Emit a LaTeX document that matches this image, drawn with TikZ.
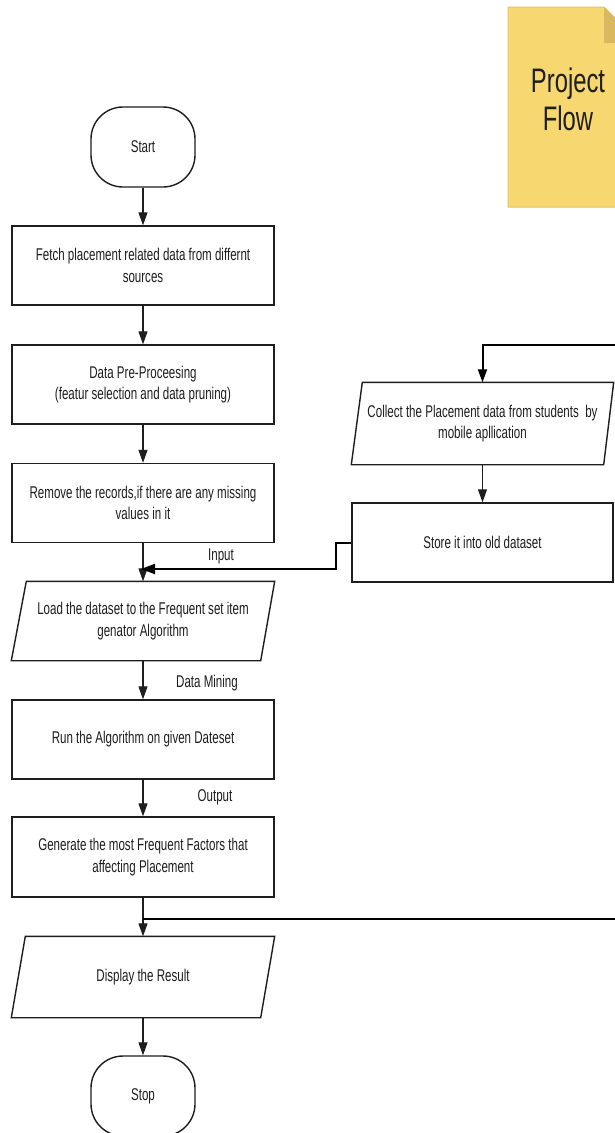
\documentclass[tikz,border=0pt]{standalone}
\usepackage{fontspec}
\setmainfont{Liberation Sans}[FakeStretch=0.68]
\newfontfamily\notefont{Liberation Sans}[FakeStretch=0.7]
\usetikzlibrary{arrows.meta,calc}
\definecolor{notefill}{RGB}{247,215,112}
\definecolor{notefold}{RGB}{218,184,96}
\definecolor{noteedge}{RGB}{226,196,104}
\definecolor{ink}{RGB}{30,30,30}
\begin{document}
\begin{tikzpicture}[x=1pt,y=-1pt,
  box/.style={draw=ink, line width=1.4pt, minimum width=262pt, minimum height=79pt,
    align=center, inner sep=0pt, font=\fontsize{17}{21.5}\selectfont, text=ink},
  parabox/.style={box, draw=none},
  term/.style={box, minimum width=104pt, minimum height=80pt, rounded corners=32pt},
  pline/.style={draw=ink, line width=1.4pt},
  arr/.style={draw=ink, line width=1.1pt, -{Triangle[length=13pt,width=9pt]}},
  link/.style={draw=black, line width=2pt},
  lbl/.style={font=\fontsize{17}{21}\selectfont, text=ink, inner sep=0pt}]
\useasboundingbox (0,0) rectangle (615,1133);
\fill[white] (0,0) rectangle (615,1133);

% sticky note
\begin{scope}
  \clip (0,0) rectangle (615,1133);
  \filldraw[fill=notefill, draw=noteedge, line width=1pt]
    (508,7) -- (604,7) -- (640,43) -- (640,207) -- (508,207) -- cycle;
  \fill[notefold] (604,7) -- (604,43) -- (640,43) -- cycle;
\end{scope}
\node[font=\notefont\fontsize{34}{38}\selectfont, align=center, text=ink] (note) at (568,99) {Project\\Flow};

% left column
\node[term] (start) at (143,147) {Start};
\node[box] (fetch) at (143,265.5) {Fetch placement related data from differnt\\sources};
\node[box] (prep) at (143,384.5) {Data Pre-Proceesing\\(featur selection and data pruning)};
\node[box] (remove) at (143,503) {Remove the records,if there are any missing\\values in it};
\node[parabox, minimum height=78pt] (load) at (143,621) {Load the dataset to the Frequent set item\\genator Algorithm};
\draw[pline] (load.south west) -- ($(load.north west)+(15,0)$) -- (load.north east) -- ($(load.south east)+(-14,0)$) -- cycle;
\node[box] (run) at (143,739.5) {Run the Algorithm on given Dateset};
\node[box, minimum height=80pt] (gen) at (143,857) {Generate the most Frequent Factors that\\affecting Placement};
\node[parabox, minimum height=80pt] (disp) at (143,977) {Display the Result};
\draw[pline] (disp.south west) -- ($(disp.north west)+(14,0)$) -- (disp.north east) -- ($(disp.south east)+(-14,0)$) -- cycle;
\node[term] (stop) at (143,1096) {Stop};

% right column
\node[parabox, minimum width=261pt, minimum height=81pt] (collect) at (482.5,423.5) {Collect the Placement data from students \ by\\mobile apllication};
\draw[pline] (collect.south west) -- ($(collect.north west)+(11,0)$) -- (collect.north east) -- ($(collect.south east)+(-10,0)$) -- cycle;
\node[box, minimum width=261pt] (store) at (482.5,542.5) {Store it into old dataset};

% main flow arrows
\draw[arr] (start) -- (fetch);
\draw[arr] (fetch) -- (prep);
\draw[arr] (prep) -- (remove);
\draw[arr] (remove) -- (load);
\draw[arr] (load) -- (run);
\draw[arr] (run) -- (gen);
\draw[arr] (gen) -- (disp);
\draw[arr] (disp) -- (stop);
\draw[arr] (collect) -- (store);

% connectors
\coordinate (inj) at (141,569);
\draw[link, -{Triangle[length=14pt,width=10pt]}] (store.west) -- ++(-15,0) |- (inj);
\coordinate (topright) at (615,345);
\draw[link, -{Triangle[length=13pt,width=9pt]}] (topright) -| (collect.north);
\coordinate (botright) at (615,919);
\coordinate (botjoin) at (143,919);
\draw[link] (botright) -- (botjoin);

% labels
\node[lbl] (linput) at (221,556) {Input};
\node[lbl] (lmining) at (207,683) {Data Mining};
\node[lbl] (loutput) at (215,797) {Output};
\end{tikzpicture}
\end{document}
